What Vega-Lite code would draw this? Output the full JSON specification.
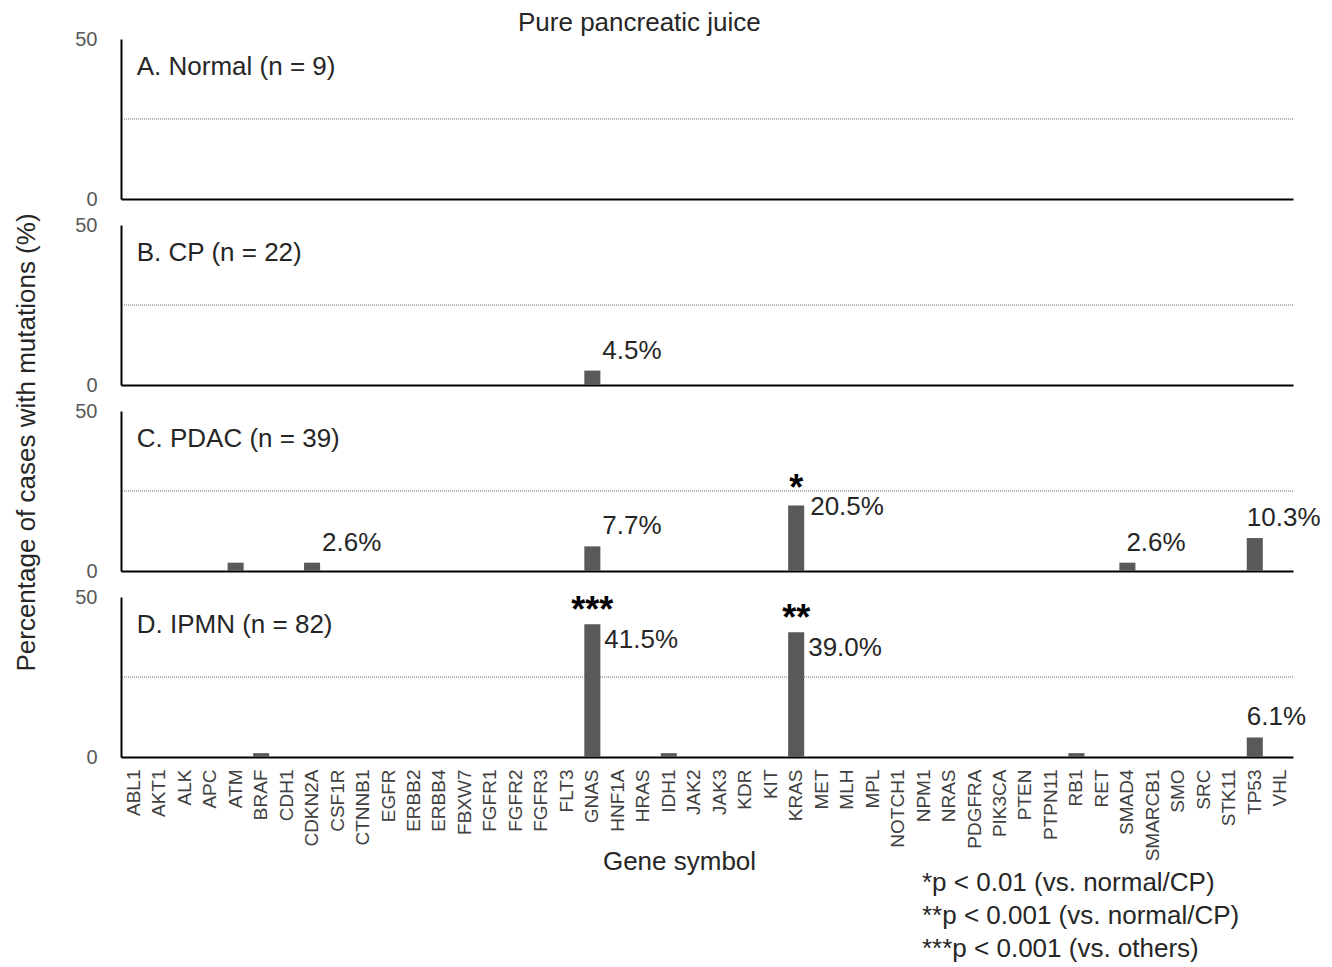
{
  "$schema": "https://vega.github.io/schema/vega-lite/v6.json",
  "padding": {"left": 12, "top": 10, "right": 5, "bottom": 5},
  "background": "white",
  "title": {"text": "Pure pancreatic juice", "anchor": "start", "frame": "group", "dx": 397, "fontSize": 26, "fontWeight": "normal", "color": "#262626", "offset": -7},
  "datasets": {
    "bars": [
      {"panel": "B", "gene": "GNAS", "value": 4.5, "label": "4.5%"},
      {"panel": "C", "gene": "ATM", "value": 2.6},
      {"panel": "C", "gene": "CDKN2A", "value": 2.6, "label": "2.6%"},
      {"panel": "C", "gene": "GNAS", "value": 7.7, "label": "7.7%"},
      {"panel": "C", "gene": "KRAS", "value": 20.5, "label": "20.5%", "star": "*"},
      {"panel": "C", "gene": "SMAD4", "value": 2.6, "label": "2.6%"},
      {"panel": "C", "gene": "TP53", "value": 10.3, "label": "10.3%"},
      {"panel": "D", "gene": "BRAF", "value": 1.2},
      {"panel": "D", "gene": "GNAS", "value": 41.5, "label": "41.5%", "star": "***"},
      {"panel": "D", "gene": "IDH1", "value": 1.2},
      {"panel": "D", "gene": "KRAS", "value": 39.0, "label": "39.0%", "star": "**"},
      {"panel": "D", "gene": "RB1", "value": 1.2},
      {"panel": "D", "gene": "TP53", "value": 6.1, "label": "6.1%"}
    ],
    "panels": [
      {"panel": "A", "title": "A. Normal (n = 9)"},
      {"panel": "B", "title": "B. CP (n = 22)"},
      {"panel": "C", "title": "C. PDAC (n = 39)"},
      {"panel": "D", "title": "D. IPMN (n = 82)"}
    ],
    "grid": [{"level": 25}]
  },
  "spacing": 26,
  "bounds": "flush",
  "vconcat": [
    {
      "width": 1172, "height": 160,
      "layer": [
        {"data": {"name": "grid"}, "mark": {"type": "rule", "color": "#6a6a6a", "strokeDash": [1, 1], "strokeWidth": 1}, "encoding": {"y": {"field": "level", "type": "quantitative", "scale": {"domain": [0, 50], "nice": false}, "axis": {"values": [0, 50], "title": null, "labelFontSize": 20, "labelColor": "#595959", "labelPadding": 24}}}},
        {"data": {"name": "bars"}, "transform": [{"filter": "datum.panel == 'A'"}], "mark": {"type": "bar", "color": "#595959"},
          "encoding": {
            "x": {"field": "gene", "type": "nominal", "scale": {"domain": ["ABL1","AKT1","ALK","APC","ATM","BRAF","CDH1","CDKN2A","CSF1R","CTNNB1","EGFR","ERBB2","ERBB4","FBXW7","FGFR1","FGFR2","FGFR3","FLT3","GNAS","HNF1A","HRAS","IDH1","JAK2","JAK3","KDR","KIT","KRAS","MET","MLH","MPL","NOTCH1","NPM1","NRAS","PDGFRA","PIK3CA","PTEN","PTPN11","RB1","RET","SMAD4","SMARCB1","SMO","SRC","STK11","TP53","VHL"], "paddingInner": 0.37, "paddingOuter": 0.185}, "axis": {"labels": false, "title": null}},
            "y": {"field": "value", "type": "quantitative"}
          }},
        {"data": {"name": "panels"}, "transform": [{"filter": "datum.panel == 'A'"}], "mark": {"type": "text", "align": "left", "baseline": "alphabetic", "fontSize": 26, "color": "#262626", "dx": 3, "dy": 36},
          "encoding": {"x": {"datum": "ABL1"}, "y": {"datum": 50}, "text": {"field": "title"}}}
      ]
    },
    {
      "width": 1172, "height": 160,
      "layer": [
        {"data": {"name": "grid"}, "mark": {"type": "rule", "color": "#6a6a6a", "strokeDash": [1, 1], "strokeWidth": 1}, "encoding": {"y": {"field": "level", "type": "quantitative", "scale": {"domain": [0, 50], "nice": false}, "axis": {"values": [0, 50], "title": null, "labelFontSize": 20, "labelColor": "#595959", "labelPadding": 24}}}},
        {"data": {"name": "bars"}, "transform": [{"filter": "datum.panel == 'B'"}],
          "encoding": {
            "x": {"field": "gene", "type": "nominal", "scale": {"domain": ["ABL1","AKT1","ALK","APC","ATM","BRAF","CDH1","CDKN2A","CSF1R","CTNNB1","EGFR","ERBB2","ERBB4","FBXW7","FGFR1","FGFR2","FGFR3","FLT3","GNAS","HNF1A","HRAS","IDH1","JAK2","JAK3","KDR","KIT","KRAS","MET","MLH","MPL","NOTCH1","NPM1","NRAS","PDGFRA","PIK3CA","PTEN","PTPN11","RB1","RET","SMAD4","SMARCB1","SMO","SRC","STK11","TP53","VHL"], "paddingInner": 0.37, "paddingOuter": 0.185}, "axis": {"labels": false, "title": null}},
            "y": {"field": "value", "type": "quantitative"}
          },
          "layer": [
            {"mark": {"type": "bar", "color": "#595959"}},
            {"transform": [{"filter": "datum.label && datum.value < 15 && datum.gene != 'TP53' && datum.gene != 'SMAD4'"}], "mark": {"type": "text", "align": "left", "baseline": "alphabetic", "fontSize": 26, "color": "#262626", "dx": 10, "dy": -12}, "encoding": {"text": {"field": "label"}}}
          ]},
        {"data": {"name": "panels"}, "transform": [{"filter": "datum.panel == 'B'"}], "mark": {"type": "text", "align": "left", "baseline": "alphabetic", "fontSize": 26, "color": "#262626", "dx": 3, "dy": 36},
          "encoding": {"x": {"datum": "ABL1"}, "y": {"datum": 50}, "text": {"field": "title"}}}
      ]
    },
    {
      "width": 1172, "height": 160,
      "layer": [
        {"data": {"name": "grid"}, "mark": {"type": "rule", "color": "#6a6a6a", "strokeDash": [1, 1], "strokeWidth": 1}, "encoding": {"y": {"field": "level", "type": "quantitative", "scale": {"domain": [0, 50], "nice": false}, "axis": {"values": [0, 50], "title": "Percentage of cases with mutations (%)", "titleFontSize": 26, "titleFontWeight": "normal", "titleColor": "#262626", "titleX": -95, "titleY": 31, "titleAngle": 270, "titleAlign": "center", "titleBaseline": "middle", "labelFontSize": 20, "labelColor": "#595959", "labelPadding": 24}}}},
        {"data": {"name": "bars"}, "transform": [{"filter": "datum.panel == 'C'"}],
          "encoding": {
            "x": {"field": "gene", "type": "nominal", "scale": {"domain": ["ABL1","AKT1","ALK","APC","ATM","BRAF","CDH1","CDKN2A","CSF1R","CTNNB1","EGFR","ERBB2","ERBB4","FBXW7","FGFR1","FGFR2","FGFR3","FLT3","GNAS","HNF1A","HRAS","IDH1","JAK2","JAK3","KDR","KIT","KRAS","MET","MLH","MPL","NOTCH1","NPM1","NRAS","PDGFRA","PIK3CA","PTEN","PTPN11","RB1","RET","SMAD4","SMARCB1","SMO","SRC","STK11","TP53","VHL"], "paddingInner": 0.37, "paddingOuter": 0.185}, "axis": {"labels": false, "title": null}},
            "y": {"field": "value", "type": "quantitative"}
          },
          "layer": [
            {"mark": {"type": "bar", "color": "#595959"}},
            {"transform": [{"filter": "datum.label && datum.value < 15 && datum.gene != 'TP53' && datum.gene != 'SMAD4'"}], "mark": {"type": "text", "align": "left", "baseline": "alphabetic", "fontSize": 26, "color": "#262626", "dx": 10, "dy": -12}, "encoding": {"text": {"field": "label"}}},
            {"transform": [{"filter": "datum.label && datum.gene == 'SMAD4'"}], "mark": {"type": "text", "align": "left", "baseline": "alphabetic", "fontSize": 26, "color": "#262626", "dx": -1, "dy": -12}, "encoding": {"text": {"field": "label"}}},
            {"transform": [{"filter": "datum.label && datum.gene == 'TP53'"}], "mark": {"type": "text", "align": "left", "baseline": "alphabetic", "fontSize": 26, "color": "#262626", "dx": -8, "dy": -12}, "encoding": {"text": {"field": "label"}}},
            {"transform": [{"filter": "datum.label && datum.value >= 15 && datum.value < 30"}], "mark": {"type": "text", "align": "left", "baseline": "alphabetic", "fontSize": 26, "color": "#262626", "dx": 14, "dy": 10}, "encoding": {"text": {"field": "label"}}},
            {"transform": [{"filter": "datum.star"}], "mark": {"type": "text", "align": "center", "baseline": "alphabetic", "fontSize": 36, "fontWeight": "bold", "color": "#000000", "dy": -5}, "encoding": {"text": {"field": "star"}}}
          ]},
        {"data": {"name": "panels"}, "transform": [{"filter": "datum.panel == 'C'"}], "mark": {"type": "text", "align": "left", "baseline": "alphabetic", "fontSize": 26, "color": "#262626", "dx": 3, "dy": 36},
          "encoding": {"x": {"datum": "ABL1"}, "y": {"datum": 50}, "text": {"field": "title"}}}
      ]
    },
    {
      "width": 1172, "height": 160,
      "title": {"text": ["*p < 0.01 (vs. normal/CP)", "**p < 0.001 (vs. normal/CP)", "***p < 0.001 (vs. others)"], "orient": "bottom", "anchor": "start", "frame": "group", "align": "left", "dx": 801, "offset": -4, "fontSize": 26, "fontWeight": "normal", "color": "#262626", "lineHeight": 33},
      "layer": [
        {"data": {"name": "grid"}, "mark": {"type": "rule", "color": "#6a6a6a", "strokeDash": [1, 1], "strokeWidth": 1}, "encoding": {"y": {"field": "level", "type": "quantitative", "scale": {"domain": [0, 50], "nice": false}, "axis": {"values": [0, 50], "title": null, "labelFontSize": 20, "labelColor": "#595959", "labelPadding": 24}}}},
        {"data": {"name": "bars"}, "transform": [{"filter": "datum.panel == 'D'"}],
          "encoding": {
            "x": {"field": "gene", "type": "nominal", "scale": {"domain": ["ABL1","AKT1","ALK","APC","ATM","BRAF","CDH1","CDKN2A","CSF1R","CTNNB1","EGFR","ERBB2","ERBB4","FBXW7","FGFR1","FGFR2","FGFR3","FLT3","GNAS","HNF1A","HRAS","IDH1","JAK2","JAK3","KDR","KIT","KRAS","MET","MLH","MPL","NOTCH1","NPM1","NRAS","PDGFRA","PIK3CA","PTEN","PTPN11","RB1","RET","SMAD4","SMARCB1","SMO","SRC","STK11","TP53","VHL"], "paddingInner": 0.37, "paddingOuter": 0.185},
              "axis": {"labelAngle": 270, "labelAlign": "right", "labelBaseline": "middle", "labelFontSize": 19, "labelColor": "#404040", "labelPadding": 12, "title": "Gene symbol", "titleFontSize": 26, "titleFontWeight": "normal", "titleColor": "#262626", "titleX": 558, "titleY": 104, "titleAlign": "center", "titleBaseline": "middle"}},
            "y": {"field": "value", "type": "quantitative"}
          },
          "layer": [
            {"mark": {"type": "bar", "color": "#595959"}},
            {"transform": [{"filter": "datum.label && datum.gene == 'TP53'"}], "mark": {"type": "text", "align": "left", "baseline": "alphabetic", "fontSize": 26, "color": "#262626", "dx": -8, "dy": -12}, "encoding": {"text": {"field": "label"}}},
            {"transform": [{"filter": "datum.label && datum.value >= 30"}], "mark": {"type": "text", "align": "left", "baseline": "alphabetic", "fontSize": 26, "color": "#262626", "dx": 12, "dy": 24}, "encoding": {"text": {"field": "label"}}},
            {"transform": [{"filter": "datum.star"}], "mark": {"type": "text", "align": "center", "baseline": "alphabetic", "fontSize": 36, "fontWeight": "bold", "color": "#000000", "dy": -2}, "encoding": {"text": {"field": "star"}}}
          ]},
        {"data": {"name": "panels"}, "transform": [{"filter": "datum.panel == 'D'"}], "mark": {"type": "text", "align": "left", "baseline": "alphabetic", "fontSize": 26, "color": "#262626", "dx": 3, "dy": 36},
          "encoding": {"x": {"datum": "ABL1"}, "y": {"datum": 50}, "text": {"field": "title"}}}
      ]
    }
  ],
  "config": {
    "font": "Liberation Sans",
    "view": {"stroke": null},
    "axis": {"domainColor": "#000000", "domainWidth": 2, "ticks": false, "grid": false, "labelFont": "Liberation Sans", "titleFont": "Liberation Sans"},
    "title": {"font": "Liberation Sans"}
  }
}
